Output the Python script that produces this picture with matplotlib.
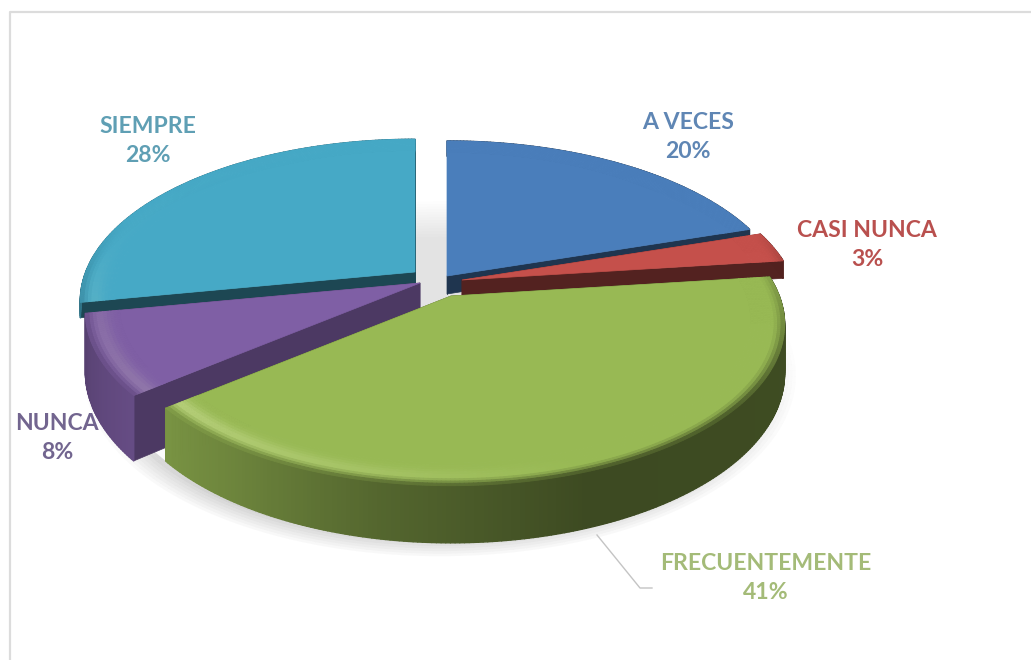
import numpy as np
import matplotlib
matplotlib.use("Agg")
import matplotlib.pyplot as plt
from matplotlib.collections import PolyCollection
from matplotlib.colors import to_rgb

categories = ["A VECES", "CASI NUNCA", "FRECUENTEMENTE", "NUNCA", "SIEMPRE"]
values = [20, 3, 41, 8, 28]
face_colors = ["#4a7ebb", "#c5504b", "#98b954", "#7f5fa5", "#46a9c6"]
label_colors = ["#5f86b4", "#b9504e", "#a4bb78", "#72658f", "#5f9fb4"]
label_pos = [(688, 137), (867, 245), (766, 578), (57, 438), (148, 141)]
centres = [(447, 276), (462, 280), (451, 296), (420, 283), (415, 272)]
radius_scale = [1.0, .985, .977, 0.98, 0.98]
wall_depth = [18, 18, 47, 58, 15]
cut_dark = [.42, .42, .42, .60, .42]
rim_gloss = [.55, .55, .55, .25, .25]
draw_order = [4, 0, 1, 3, 2]

A, B, K = 336.0, 159.6, 0.182


def project(th, r, c, rs=1.0, drop=0.0):
    u = r * rs * np.sin(th)
    v = r * rs * np.cos(th)
    s = 1.0 / (1.0 + K * v)
    return c[0] + A * u * s, c[1] - B * v * s + drop * s


def wall_level(deg):
    return np.interp(deg, [0, 70, 160, 190, 215, 231, 260, 360],
                     [.42, .42, .40, .55, .72, .80, .68, .60])


def highlight(deg):
    return np.interp(deg, [0, 160, 190, 230, 262, 280, 360],
                     [0, 0, .25, .6, .3, .05, 0])


fig = plt.figure(figsize=(10.31, 6.6), dpi=100)
ax = fig.add_axes([0, 0, 1, 1])
ax.set_xlim(0, 1031)
ax.set_ylim(660, 0)
ax.axis("off")

ax.plot([10, 10, 1031], [660, 12, 12], color="#dcdcdc", lw=1.6, zorder=0)

# soft shadow: faint fill behind the gap, then a fading ring round the rim
full = np.radians(np.linspace(0, 360, 200))
for sc in np.linspace(.70, .98, 14):
    x, y = project(full, sc, (440, 296), drop=45)
    ax.fill(x, y, color="#707070", alpha=.012, lw=0, zorder=1)
edges = np.linspace(.96, 1.05, 10)
polys, cols = [], []
for ra, rb in zip(edges[:-1], edges[1:]):
    fade = np.clip((1.05 - rb) / .07, 0, 1)
    for a, b in zip(full[:-1], full[1:]):
        xa, ya = project(a, ra, (440, 296), drop=45)
        xb, yb = project(b, ra, (440, 296), drop=45)
        xc, yc = project(b, rb, (440, 296), drop=45)
        xd, yd = project(a, rb, (440, 296), drop=45)
        front = np.clip(-np.cos(a) + .2, 0, 1)
        polys.append([(xa, ya), (xb, yb), (xc, yc), (xd, yd)])
        cols.append((.45, .45, .45, .30 * fade * front))
ax.add_collection(PolyCollection(polys, facecolors=cols, edgecolors="none", zorder=1))

cum = np.cumsum([0] + values) / sum(values) * 360.0
z = 2
for i in draw_order:
    c = centres[i]
    rs = radius_scale[i]
    depth = wall_depth[i]
    base = np.array(to_rgb(face_colors[i]))
    start, end = cum[i], cum[i + 1]
    degs = np.linspace(start, end, max(8, int((end - start) * 1.5)))
    ths = np.radians(degs)

    # radial walls
    dark = base * cut_dark[i]
    for d in (start, end):
        t = np.radians(d)
        x0, y0 = project(t, 0, c, rs)
        x1, y1 = project(t, 1, c, rs)
        x2, y2 = project(t, 1, c, rs, depth)
        x3, y3 = project(t, 0, c, rs, depth)
        ax.fill([x0, x1, x2, x3], [y0, y1, y2, y3], color=dark, lw=.5, ec=dark, zorder=z)
    z += 1

    # outer wall
    polys, cols = [], []
    for a in range(len(ths) - 1):
        xa, ya = project(ths[a], 1, c, rs)
        xb, yb = project(ths[a + 1], 1, c, rs)
        xc, yc = project(ths[a + 1], 1, c, rs, depth)
        xd, yd = project(ths[a], 1, c, rs, depth)
        polys.append([(xa, ya), (xb, yb), (xc, yc), (xd, yd)])
        cols.append(base * wall_level(.5 * (degs[a] + degs[a + 1])))
    ax.add_collection(PolyCollection(polys, facecolors=cols, edgecolors=cols, linewidths=1.0, zorder=z))
    z += 1

    # top face
    x, y = project(ths, .9, c, rs)
    ax0, ay0 = project(0.0, 0.0, c, rs)
    ax.fill(np.r_[ax0, x], np.r_[ay0, y], color=base, lw=.5, ec=base, zorder=z)
    z += 1

    # rounded rim of the top face
    radii = np.linspace(.9, 1.0, 11)
    polys, cols = [], []
    for ra, rb in zip(radii[:-1], radii[1:]):
        t = (.5 * (ra + rb) - .9) / .1
        for a in range(len(ths) - 1):
            dm = .5 * (degs[a] + degs[a + 1])
            xa, ya = project(ths[a], ra, c, rs)
            xb, yb = project(ths[a + 1], ra, c, rs)
            xc, yc = project(ths[a + 1], rb, c, rs)
            xd, yd = project(ths[a], rb, c, rs)
            hl = highlight(dm) * np.exp(-((t - .6) / .28) ** 2)
            colr = base + (np.array([.93, .97, .75]) - base) * hl * rim_gloss[i]
            wall = base * wall_level(dm)
            mix = np.clip((t - .65) / .35, 0, 1) ** 1.5
            front = np.clip(-np.cos(np.radians(dm)) + .35, 0, 1)
            colr = colr + (wall - colr) * mix * front
            polys.append([(xa, ya), (xb, yb), (xc, yc), (xd, yd)])
            cols.append(np.clip(colr, 0, 1))
    ax.add_collection(PolyCollection(polys, facecolors=cols, edgecolors=cols, linewidths=.7, zorder=z))
    z += 1

ax.plot([597, 640, 652], [535, 588, 588], color="#c4c4c4", lw=1.0, zorder=z)

for name, val, col, (lx, ly) in zip(categories, values, label_colors, label_pos):
    ax.text(lx, ly, f"{name}\n{val}%", color=col, ha="center", va="center",
            fontsize=16.6, fontweight="bold", family="Lato", linespacing=1.42, zorder=z + 1)

fig.savefig("out.png", dpi=100, facecolor="white")
